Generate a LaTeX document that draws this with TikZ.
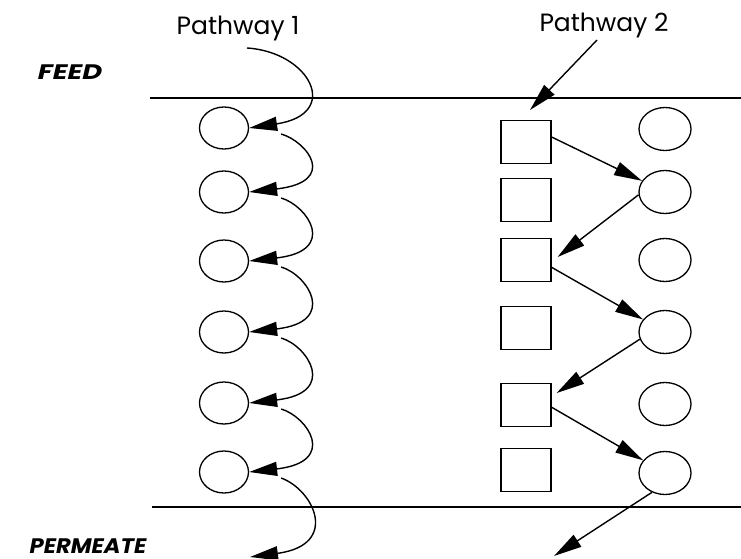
\documentclass[tikz,border=0pt]{standalone}
\usepackage{fontspec}
\setmainfont{Poppins}
\usetikzlibrary{shapes.geometric,arrows.meta}
\begin{document}
\begin{tikzpicture}[x=1pt,y=-1pt,
  cell/.style={draw,line width=1.3pt,ellipse,inner sep=0pt,minimum width=49pt,minimum height=42pt},
  cellr/.style={cell,minimum width=52pt,minimum height=43pt},
  sq/.style={draw,line width=1.3pt,rectangle,inner sep=0pt,minimum width=50pt,minimum height=43pt},
  wall/.style={line width=2.6pt},
  arr/.style={line width=1.4pt,-{Triangle[length=28pt,width=14pt]}},
  lbl/.style={font=\fontsize{25}{28}\selectfont,anchor=base,inner sep=0pt},
  side/.style={font=\fontsize{21}{24}\selectfont\bfseries\itshape,anchor=base,inner sep=0pt}]
\useasboundingbox (0,0) rectangle (741,559);
% walls
\coordinate (TL) at (150,98); \coordinate (TR) at (741,98);
\coordinate (BL) at (152,507); \coordinate (BR) at (741,507);
\draw[wall] (TL) -- (TR);
\draw[wall] (BL) -- (BR);
% labels
\node[side] (feed) at (70,80) {\scalebox{1.3}[1]{FEED}};
\node[side] (perm) at (88,553) {\scalebox{1.08}[1]{PERMEATE}};
\node[lbl] (p1) at (238,35) {Pathway 1};
\node[lbl] (p2) at (604,32) {Pathway 2};
% left column
\node[cell] (L1) at (224,128) {};
\node[cell] (L2) at (224,192) {};
\node[cell] (L3) at (224,261) {};
\node[cell] (L4) at (224,332) {};
\node[cell] (L5) at (224,403) {};
\node[cell] (L6) at (224,472) {};
% squares
\node[sq] (S1) at (526,142) {};
\node[sq] (S2) at (526,200) {};
\node[sq] (S3) at (526,260) {};
\node[sq] (S4) at (526,328) {};
\node[sq] (S5) at (526,405) {};
\node[sq] (S6) at (526,470) {};
% right ellipses
\node[cellr] (R1) at (665,129) {};
\node[cellr] (R2) at (665,192) {};
\node[cellr] (R3) at (665,260) {};
\node[cellr] (R4) at (665,332) {};
\node[cellr] (R5) at (665,404) {};
\node[cellr] (R6) at (665,473) {};
% pathway 1
\coordinate (a0) at (247,48);
\coordinate (end1) at (250,557);
\draw[arr] (a0) .. controls (310,52) and (342,114) .. (L1.east);
\draw[arr] ([xshift=32pt,yshift=-6pt]L1.east) .. controls (308,142) and (338,182) .. (L2.east);
\draw[arr] ([xshift=32pt,yshift=-6pt]L2.east) .. controls (308,206) and (338,251) .. (L3.east);
\draw[arr] ([xshift=32pt,yshift=-6pt]L3.east) .. controls (308,275) and (338,322) .. (L4.east);
\draw[arr] ([xshift=32pt,yshift=-6pt]L4.east) .. controls (308,346) and (338,393) .. (L5.east);
\draw[arr] ([xshift=32pt,yshift=-6pt]L5.east) .. controls (308,417) and (338,462) .. (L6.east);
\draw[arr] ([xshift=32pt,yshift=-6pt]L6.east) .. controls (314,490) and (340,545) .. (end1);
% pathway 2
\coordinate (b0) at (597,40);
\coordinate (b1) at (530,110);
\coordinate (end2) at (554,556);
\draw[arr] (b0) -- (b1);
\draw[arr] (S1.11) -- (R2);
\draw[arr] (R2.186) -- ([xshift=6pt,yshift=3pt]S3.east);
\draw[arr] (S3.-16) -- (R4);
\draw[arr] (R4.196) -- ([xshift=5pt,yshift=12pt]S5.east);
\draw[arr] (S5.-5) -- (R6);
\draw[arr] (R6.236) -- (end2);
\end{tikzpicture}
\end{document}
